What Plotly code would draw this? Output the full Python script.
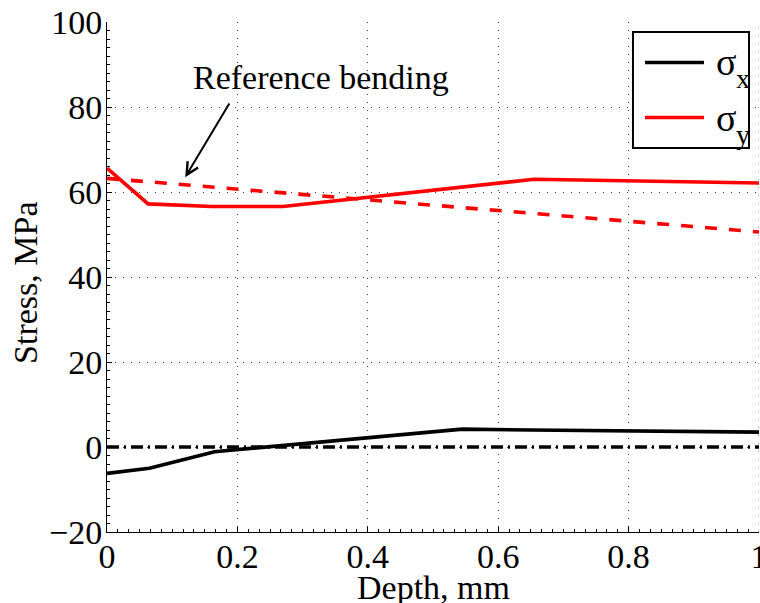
import plotly.graph_objects as go

# Measured stress profiles through the depth
depth_sx = [0.0, 0.065, 0.165, 0.545, 0.65, 1.0]
sigma_x = [-6.2, -5.0, -1.1, 4.2, 4.0, 3.5]

depth_sy = [0.0, 0.063, 0.16, 0.27, 0.655, 1.0]
sigma_y = [65.6, 57.2, 56.6, 56.6, 63.0, 62.1]

# Reference (pure bending) stress and the zero level
depth_ref = [0.0, 1.0]
sigma_ref = [63.2, 50.6]
sigma_zero = [0.0, 0.0]

x_ticks = [0, 0.2, 0.4, 0.6, 0.8, 1.0]
x_tick_text = ["0", "0.2", "0.4", "0.6", "0.8", "1"]
y_ticks = [-20, 0, 20, 40, 60, 80, 100]

FONT = "Liberation Serif"
FS = 34
RED = "#ff0000"

fig = go.Figure()
fig.add_trace(go.Scatter(x=depth_ref, y=sigma_zero, mode="lines",
                         line=dict(color="black", width=3.6, dash="12px,5px,2px,5px"),
                         showlegend=False, hoverinfo="skip"))
fig.add_trace(go.Scatter(x=depth_ref, y=sigma_ref, mode="lines",
                         line=dict(color=RED, width=3.6, dash="12px,12px"),
                         showlegend=False, hoverinfo="skip"))
fig.add_trace(go.Scatter(x=depth_sx, y=sigma_x, mode="lines", name="σx",
                         line=dict(color="black", width=3.6), showlegend=False))
fig.add_trace(go.Scatter(x=depth_sy, y=sigma_y, mode="lines", name="σy",
                         line=dict(color=RED, width=3.6), showlegend=False))

axis_common = dict(
    showline=True, linecolor="black", linewidth=1,
    ticks="inside", ticklen=5, tickcolor="black",
    showgrid=True, gridcolor="#333333", gridwidth=1, griddash="1px,7px",
    zeroline=False, mirror=False, automargin=False,
    tickfont=dict(family=FONT, size=FS, color="black"),
)

fig.update_xaxes(range=[0, 1], tickvals=x_ticks, ticktext=x_tick_text,
                 ticklabeloverflow="allow", ticklabelstandoff=-6,
                 minor=dict(ticks="inside", ticklen=3, dtick=0.2 / 12,
                            tickcolor="black", showgrid=False),
                 **axis_common)
fig.update_yaxes(range=[-20, 100], tickvals=y_ticks, ticklabelstandoff=-3,
                 minor=dict(ticks="inside", ticklen=3, dtick=2,
                            tickcolor="black", showgrid=False),
                 **axis_common)

annotations = [
    # axis titles
    dict(text="Depth, mm", x=0.5, y=-0.108, xref="paper", yref="paper",
         showarrow=False, xanchor="center", yanchor="middle",
         font=dict(family=FONT, size=FS, color="black")),
    dict(text="Stress, MPa", x=-0.126, y=0.488, xref="paper", yref="paper",
         showarrow=False, textangle=-90, xanchor="center", yanchor="middle",
         font=dict(family=FONT, size=FS, color="black")),
    # callout for the reference bending line
    dict(text="Reference bending", x=0.3285, y=87.0, xref="x", yref="y",
         showarrow=False, xanchor="center", yanchor="middle",
         font=dict(family=FONT, size=FS, color="black")),
    dict(text="", x=0.12, y=63.5, ax=0.189, ay=81.2, xref="x", yref="y",
         axref="x", ayref="y", showarrow=True, arrowhead=5, arrowsize=1.2,
         arrowwidth=2, arrowcolor="black", standoff=0),
    # legend labels
    dict(text="σ", x=0.9310, y=0.9206, xref="paper", yref="paper",
         showarrow=False, xanchor="left", yanchor="middle",
         font=dict(family=FONT, size=38, color="black")),
    dict(text="x", x=0.9610, y=0.890, xref="paper", yref="paper",
         showarrow=False, xanchor="left", yanchor="middle",
         font=dict(family=FONT, size=28, color="black")),
    dict(text="σ", x=0.9310, y=0.8127, xref="paper", yref="paper",
         showarrow=False, xanchor="left", yanchor="middle",
         font=dict(family=FONT, size=38, color="black")),
    dict(text="y", x=0.9610, y=0.780, xref="paper", yref="paper",
         showarrow=False, xanchor="left", yanchor="middle",
         font=dict(family=FONT, size=28, color="black")),
]

shapes = [
    # dotted grid line at the right edge of the depth range
    dict(type="line", xref="x", yref="paper", x0=1, x1=1, y0=0, y1=1,
         line=dict(color="#333333", width=1, dash="1px,7px"), layer="below"),
    dict(type="rect", xref="paper", yref="paper", x0=0.8067, x1=0.9847,
         y0=0.7529, y1=0.9804, line=dict(color="black", width=2),
         fillcolor="white", layer="above"),
    dict(type="line", xref="paper", yref="paper", x0=0.8252, x1=0.9156,
         y0=0.9206, y1=0.9206, line=dict(color="black", width=3.6), layer="above"),
    dict(type="line", xref="paper", yref="paper", x0=0.8252, x1=0.9156,
         y0=0.8127, y1=0.8127, line=dict(color=RED, width=3.6), layer="above"),
]

fig.update_layout(
    width=760, height=603,
    margin=dict(l=107, r=1, t=22, b=71, autoexpand=False),
    paper_bgcolor="white", plot_bgcolor="white",
    font=dict(family=FONT, size=FS, color="black"),
    annotations=annotations, shapes=shapes,
    showlegend=False,
)

fig.write_html("out.html")
